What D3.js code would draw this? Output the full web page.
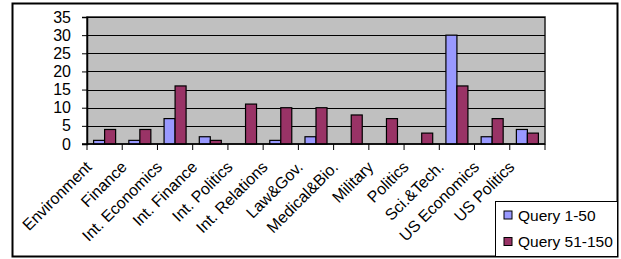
<!DOCTYPE html>
<html>
<head>
<meta charset="utf-8">
<script src="https://cdn.jsdelivr.net/npm/d3@7"></script>
<style>
  body { margin: 0; background: #fff; }
  svg text { font-family: "Liberation Sans", Arial, sans-serif; fill: #000; }
</style>
</head>
<body>
<div id="chart"></div>
<script>
const categories = ['Environment', 'Finance', 'Int. Economics', 'Int. Finance', 'Int. Politics',
    'Int. Relations', 'Law&Gov.', 'Medical&Bio.', 'Military', 'Politics', 'Sci.&Tech.',
    'US Economics', 'US Politics'];
const seriesNames = ['Query 1-50', 'Query 51-150'];
const query1to50 = [1, 1, 7, 2, 0, 1, 2, 0, 0, 0, 30, 2, 4];
const query51to150 = [4, 4, 16, 1, 11, 10, 10, 8, 7, 3, 16, 7, 3];
const yTicks = [0, 5, 10, 15, 20, 25, 30, 35];
const colors = ['#9999ff', '#993366'];

const width = 621, height = 259;
const plot = { left: 87, top: 17, right: 545, bottom: 144 };

const svg = d3.select('#chart').append('svg')
    .attr('width', width)
    .attr('height', height);

// outer chart frame
svg.append('rect')
    .attr('x', 12.5).attr('y', 3.5)
    .attr('width', 605).attr('height', 253)
    .attr('fill', '#fff')
    .attr('stroke', '#000')
    .attr('stroke-width', 2);

const x = d3.scaleBand()
    .domain(categories)
    .range([plot.left, plot.right]);

const xInner = d3.scaleBand()
    .domain(seriesNames)
    .range([0, x.bandwidth()])
    .paddingOuter(0.6);

const y = d3.scaleLinear()
    .domain([0, 35])
    .range([plot.bottom, plot.top]);

// plot background
svg.append('rect')
    .attr('x', plot.left).attr('y', plot.top)
    .attr('width', plot.right - plot.left)
    .attr('height', plot.bottom - plot.top)
    .attr('fill', '#c0c0c0')
    .attr('stroke', '#222')
    .attr('stroke-width', 1.5);

// gridlines
svg.append('g')
    .selectAll('line')
    .data(yTicks.slice(1))
    .enter()
    .append('line')
    .attr('x1', plot.left).attr('x2', plot.right)
    .attr('y1', d => Math.round(y(d)) + 0.5)
    .attr('y2', d => Math.round(y(d)) + 0.5)
    .attr('stroke', '#000')
    .attr('stroke-width', 1);

// y axis
const yAxis = svg.append('g')
    .attr('transform', `translate(${plot.left},0)`)
    .call(d3.axisLeft(y).tickValues(yTicks).tickSize(5).tickPadding(11));
yAxis.select('.domain').attr('stroke', '#000').attr('stroke-width', 1.5);
yAxis.selectAll('text')
    .style('font-size', '16px')
    .style('font-family', '"Liberation Sans", Arial, sans-serif');

// bars
const data = categories.map((c, i) => ({ category: c, values: [query1to50[i], query51to150[i]] }));

const groups = svg.append('g')
    .selectAll('g')
    .data(data)
    .enter()
    .append('g')
    .attr('transform', d => `translate(${x(d.category)},0)`);

groups.selectAll('rect')
    .data(d => d.values.map((v, j) => ({ name: seriesNames[j], value: v, idx: j })))
    .enter()
    .filter(d => d.value > 0)
    .append('rect')
    .attr('x', d => xInner(d.name))
    .attr('y', d => y(d.value))
    .attr('width', xInner.bandwidth())
    .attr('height', d => y(0) - y(d.value))
    .attr('fill', d => colors[d.idx])
    .attr('stroke', '#000')
    .attr('stroke-width', 1.2);

// x axis line + ticks at band edges
svg.append('line')
    .attr('x1', plot.left - 5).attr('x2', plot.right)
    .attr('y1', plot.bottom).attr('y2', plot.bottom)
    .attr('stroke', '#000')
    .attr('stroke-width', 1.5);

const edges = categories.map(c => x(c)).concat([plot.right]);
svg.append('g')
    .selectAll('line')
    .data(edges)
    .enter()
    .append('line')
    .attr('x1', d => d).attr('x2', d => d)
    .attr('y1', plot.bottom).attr('y2', plot.bottom + 6)
    .attr('stroke', '#000')
    .attr('stroke-width', 1);

// rotated category labels
svg.append('g')
    .selectAll('text')
    .data(categories)
    .enter()
    .append('text')
    .attr('transform', d => `translate(${x(d) + x.bandwidth() / 2 - 12},168) rotate(-45)`)
    .attr('text-anchor', 'end')
    .style('font-size', '16px')
    .text(d => d);

// legend
const legend = svg.append('g');
legend.append('rect')
    .attr('x', 495.5).attr('y', 201.5)
    .attr('width', 122).attr('height', 55)
    .attr('fill', '#fff')
    .attr('stroke', '#000')
    .attr('stroke-width', 1);

const items = legend.selectAll('g')
    .data(seriesNames)
    .enter()
    .append('g')
    .attr('transform', (d, i) => `translate(504,${215 + i * 26.5})`);

items.append('rect')
    .attr('x', 0).attr('y', -4)
    .attr('width', 8).attr('height', 8)
    .attr('fill', (d, i) => colors[i])
    .attr('stroke', '#000')
    .attr('stroke-width', 1);

items.append('text')
    .attr('x', 14).attr('y', 5.5)
    .style('font-size', '15.5px')
    .text(d => d);
</script>
</body>
</html>
